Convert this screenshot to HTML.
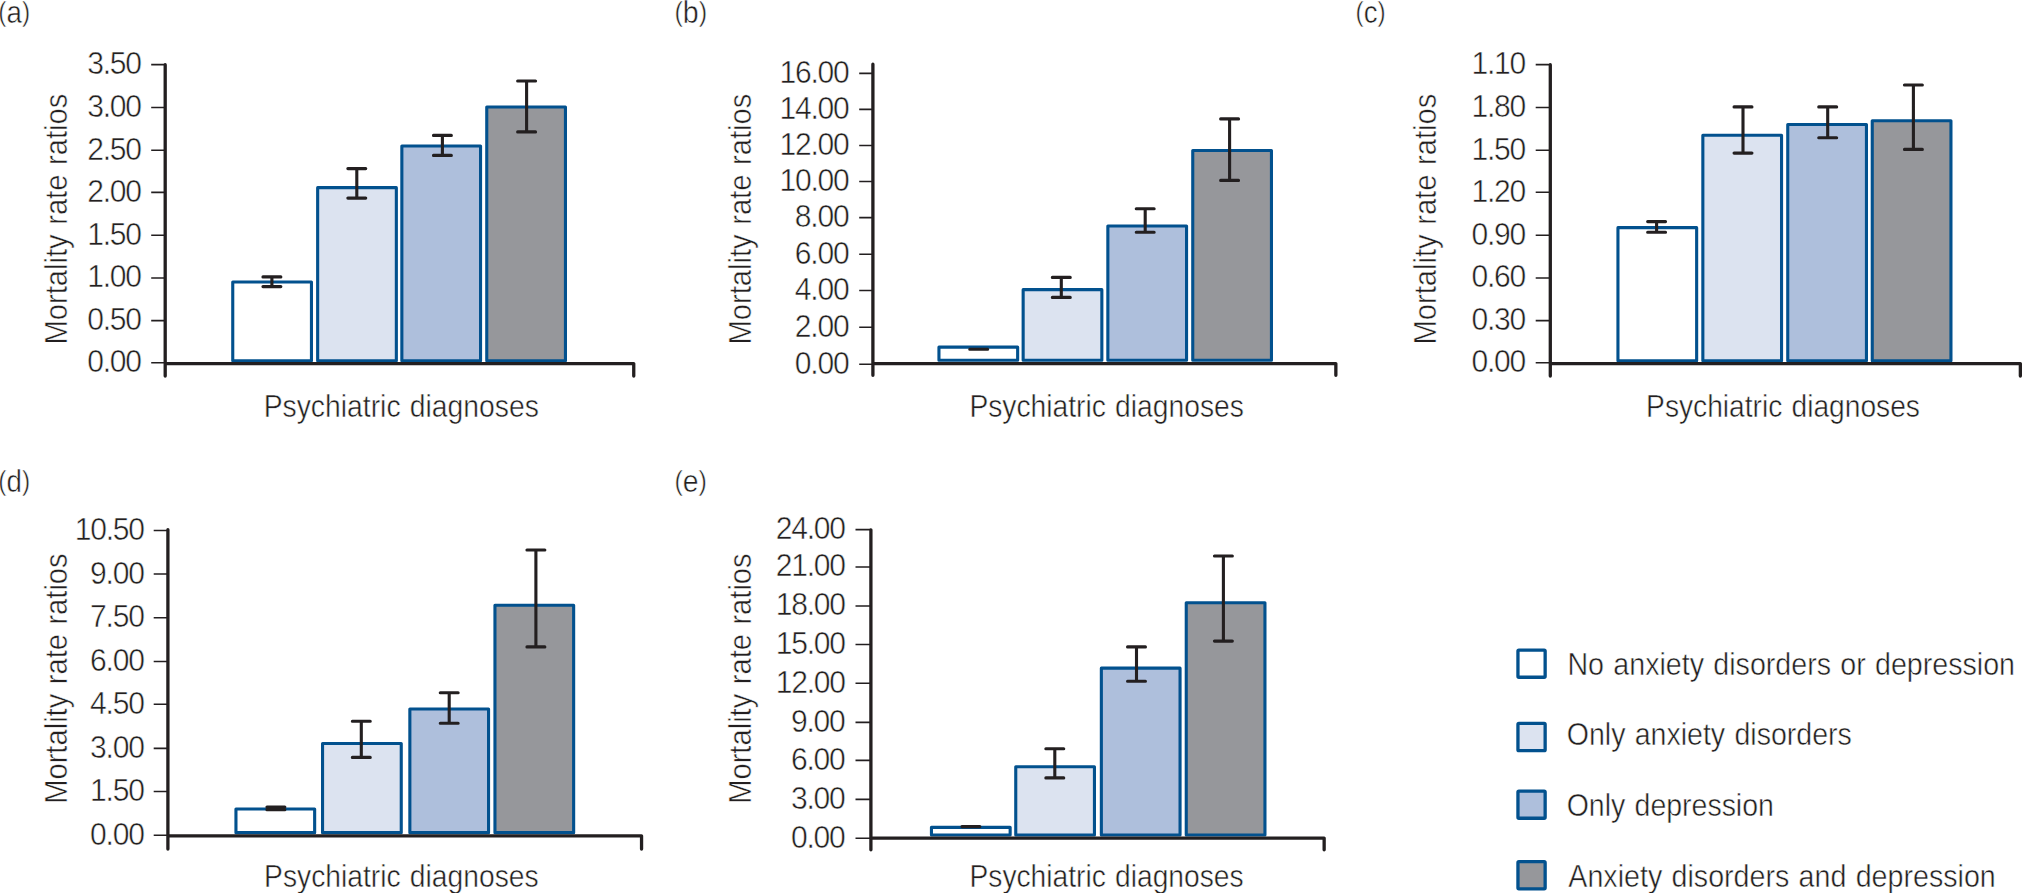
<!DOCTYPE html>
<html lang="en">
<head>
<meta charset="utf-8">
<title>Mortality rate ratios by psychiatric diagnoses</title>
<style>
html,body{margin:0;padding:0;background:#fff;}
body{width:2022px;height:893px;overflow:hidden;}
svg{display:block;}
svg text{font-family:"Liberation Sans",sans-serif;font-size:31.5px;fill:#231f20;stroke:#fff;stroke-width:0.5px;word-spacing:1.5px;}
svg text.n{font-size:31.0px;word-spacing:0;letter-spacing:-1.25px;}
</style>
</head>
<body>
<svg width="2022" height="893" viewBox="0 0 2022 893">
<rect width="2022" height="893" fill="#ffffff"/>
<g>
<text transform="translate(-1.63 22.8) scale(0.8791 1)"><tspan font-size="27.9" dy="-1.7">(</tspan><tspan dy="1.7">a</tspan><tspan font-size="27.9" dy="-1.7">)</tspan></text>
<text transform="translate(67.3 344.58) rotate(-90) scale(0.9264 1)">Mortality rate ratios</text>
<text transform="translate(263.68 416.6) scale(0.8991 1)">Psychiatric diagnoses</text>
<text class="n" transform="translate(87.15 73.9) scale(0.9700 1)">3.50</text>
<text class="n" transform="translate(87.15 116.8) scale(0.9700 1)">3.00</text>
<text class="n" transform="translate(87.15 159.5) scale(0.9700 1)">2.50</text>
<text class="n" transform="translate(87.15 201.7) scale(0.9700 1)">2.00</text>
<text class="n" transform="translate(87.15 244.6) scale(0.9700 1)">1.50</text>
<text class="n" transform="translate(87.15 287.3) scale(0.9700 1)">1.00</text>
<text class="n" transform="translate(87.15 329.9) scale(0.9700 1)">0.50</text>
<text class="n" transform="translate(87.15 372) scale(0.9700 1)">0.00</text>
<path d="M151.2 64.6H165.2M151.2 107.5H165.2M151.2 150.2H165.2M151.2 192.4H165.2M151.2 235.3H165.2M151.2 278H165.2M151.2 320.6H165.2M151.2 362.7H165.2" stroke="#231f20" stroke-width="1.6" fill="none"/>
<rect x="232.75" y="281.95" width="78.7" height="78.8" fill="#ffffff" stroke="#02518e" stroke-width="3.1" stroke-linejoin="round"/>
<rect x="317.65" y="187.65" width="78.7" height="173.1" fill="#dce3f0" stroke="#02518e" stroke-width="3.1" stroke-linejoin="round"/>
<rect x="401.85" y="145.95" width="78.7" height="214.8" fill="#aebfdc" stroke="#02518e" stroke-width="3.1" stroke-linejoin="round"/>
<rect x="486.75" y="106.95" width="78.7" height="253.8" fill="#96979b" stroke="#02518e" stroke-width="3.1" stroke-linejoin="round"/>
<path d="M165.2 64.75V376.05M165.2 363.6H633.75V376.05" stroke="#231f20" stroke-width="3.3" stroke-linecap="round" stroke-linejoin="round" fill="none"/>
<path d="M262.95 276.9H280.85M262.95 286.6H280.85M271.9 276.9V286.6M347.85 168.6H365.75M347.85 198.1H365.75M356.8 168.6V198.1M433.45 135.4H451.35M433.45 155.4H451.35M442.4 135.4V155.4M517.65 81H535.55M517.65 131.9H535.55M526.6 81V131.9" stroke="#231f20" stroke-width="3.1" stroke-linecap="round" fill="none"/>
</g>
<g>
<text transform="translate(674.42 22.8) scale(0.9066 1)"><tspan font-size="27.9" dy="-1.7">(</tspan><tspan dy="1.7">b</tspan><tspan font-size="27.9" dy="-1.7">)</tspan></text>
<text transform="translate(751.3 344.58) rotate(-90) scale(0.9264 1)">Mortality rate ratios</text>
<text transform="translate(969.39 416.6) scale(0.8968 1)">Psychiatric diagnoses</text>
<text class="n" transform="translate(779.43 82.7) scale(0.9700 1)">16.00</text>
<text class="n" transform="translate(779.43 118.7) scale(0.9700 1)">14.00</text>
<text class="n" transform="translate(779.43 154.8) scale(0.9700 1)">12.00</text>
<text class="n" transform="translate(779.43 190.8) scale(0.9700 1)">10.00</text>
<text class="n" transform="translate(794.75 226.9) scale(0.9700 1)">8.00</text>
<text class="n" transform="translate(794.75 263.6) scale(0.9700 1)">6.00</text>
<text class="n" transform="translate(794.75 299.8) scale(0.9700 1)">4.00</text>
<text class="n" transform="translate(794.75 336.6) scale(0.9700 1)">2.00</text>
<text class="n" transform="translate(794.75 373.5) scale(0.9700 1)">0.00</text>
<path d="M859.2 73.4H872.9M859.2 109.4H872.9M859.2 145.5H872.9M859.2 181.5H872.9M859.2 217.6H872.9M859.2 254.3H872.9M859.2 290.5H872.9M859.2 327.3H872.9M859.2 364.2H872.9" stroke="#231f20" stroke-width="1.6" fill="none"/>
<rect x="938.95" y="347.15" width="78.7" height="13.1" fill="#ffffff" stroke="#02518e" stroke-width="3.1" stroke-linejoin="round"/>
<rect x="1023.15" y="289.65" width="78.7" height="70.6" fill="#dce3f0" stroke="#02518e" stroke-width="3.1" stroke-linejoin="round"/>
<rect x="1107.85" y="225.95" width="78.7" height="134.3" fill="#aebfdc" stroke="#02518e" stroke-width="3.1" stroke-linejoin="round"/>
<rect x="1192.75" y="150.45" width="78.7" height="209.8" fill="#96979b" stroke="#02518e" stroke-width="3.1" stroke-linejoin="round"/>
<path d="M872.9 64.25V375.35M872.9 363.6H1335.85V375.35" stroke="#231f20" stroke-width="3.3" stroke-linecap="round" stroke-linejoin="round" fill="none"/>
<path d="M969.75 349.3H987.65M1052.35 277.4H1070.25M1052.35 297.4H1070.25M1061.3 277.4V297.4M1136.25 208.8H1154.15M1136.25 232.3H1154.15M1145.2 208.8V232.3M1220.65 118.9H1238.55M1220.65 180.4H1238.55M1229.6 118.9V180.4" stroke="#231f20" stroke-width="3.1" stroke-linecap="round" fill="none"/>
</g>
<g>
<text transform="translate(1355.57 22.8) scale(0.8754 1)"><tspan font-size="27.9" dy="-1.7">(</tspan><tspan dy="1.7">c</tspan><tspan font-size="27.9" dy="-1.7">)</tspan></text>
<text transform="translate(1436.4 344.58) rotate(-90) scale(0.9264 1)">Mortality rate ratios</text>
<text transform="translate(1646.1 416.6) scale(0.8948 1)">Psychiatric diagnoses</text>
<text class="n" transform="translate(1471.45 73.9) scale(0.9700 1)">1.10</text>
<text class="n" transform="translate(1471.45 116.8) scale(0.9700 1)">1.80</text>
<text class="n" transform="translate(1471.45 159.5) scale(0.9700 1)">1.50</text>
<text class="n" transform="translate(1471.45 201.6) scale(0.9700 1)">1.20</text>
<text class="n" transform="translate(1471.45 244.5) scale(0.9700 1)">0.90</text>
<text class="n" transform="translate(1471.45 287.3) scale(0.9700 1)">0.60</text>
<text class="n" transform="translate(1471.45 329.9) scale(0.9700 1)">0.30</text>
<text class="n" transform="translate(1471.45 372) scale(0.9700 1)">0.00</text>
<path d="M1535.7 64.6H1550.3M1535.7 107.5H1550.3M1535.7 150.2H1550.3M1535.7 192.3H1550.3M1535.7 235.2H1550.3M1535.7 278H1550.3M1535.7 320.6H1550.3M1535.7 362.7H1550.3" stroke="#231f20" stroke-width="1.6" fill="none"/>
<rect x="1617.95" y="227.65" width="78.7" height="133.1" fill="#ffffff" stroke="#02518e" stroke-width="3.1" stroke-linejoin="round"/>
<rect x="1702.85" y="135.25" width="78.7" height="225.5" fill="#dce3f0" stroke="#02518e" stroke-width="3.1" stroke-linejoin="round"/>
<rect x="1787.75" y="124.45" width="78.7" height="236.3" fill="#aebfdc" stroke="#02518e" stroke-width="3.1" stroke-linejoin="round"/>
<rect x="1872.25" y="120.75" width="78.7" height="240" fill="#96979b" stroke="#02518e" stroke-width="3.1" stroke-linejoin="round"/>
<path d="M1550.3 64.75V376.05M1550.3 363.55H2020.35V376.05" stroke="#231f20" stroke-width="3.3" stroke-linecap="round" stroke-linejoin="round" fill="none"/>
<path d="M1647.65 221.6H1665.55M1647.65 232.3H1665.55M1656.6 221.6V232.3M1734.05 106.9H1751.95M1734.05 153.1H1751.95M1743 106.9V153.1M1818.75 106.9H1836.65M1818.75 137.7H1836.65M1827.7 106.9V137.7M1904.45 85H1922.35M1904.45 149.4H1922.35M1913.4 85V149.4" stroke="#231f20" stroke-width="3.1" stroke-linecap="round" fill="none"/>
</g>
<g>
<text transform="translate(-1.63 491.7) scale(0.8791 1)"><tspan font-size="27.9" dy="-1.7">(</tspan><tspan dy="1.7">d</tspan><tspan font-size="27.9" dy="-1.7">)</tspan></text>
<text transform="translate(67.3 803.78) rotate(-90) scale(0.9249 1)">Mortality rate ratios</text>
<text transform="translate(264.09 886.8) scale(0.8971 1)">Psychiatric diagnoses</text>
<text class="n" transform="translate(74.73 540.2) scale(0.9700 1)">10.50</text>
<text class="n" transform="translate(90.05 583.7) scale(0.9700 1)">9.00</text>
<text class="n" transform="translate(90.05 627.4) scale(0.9700 1)">7.50</text>
<text class="n" transform="translate(90.05 671.2) scale(0.9700 1)">6.00</text>
<text class="n" transform="translate(90.05 714) scale(0.9700 1)">4.50</text>
<text class="n" transform="translate(90.05 758.1) scale(0.9700 1)">3.00</text>
<text class="n" transform="translate(90.05 801.2) scale(0.9700 1)">1.50</text>
<text class="n" transform="translate(90.05 845) scale(0.9700 1)">0.00</text>
<path d="M153.7 530.5H167.9M153.7 574H167.9M153.7 617.7H167.9M153.7 661.5H167.9M153.7 704.3H167.9M153.7 748.4H167.9M153.7 791.5H167.9M153.7 835.3H167.9" stroke="#231f20" stroke-width="1.6" fill="none"/>
<rect x="235.95" y="808.95" width="78.7" height="23.7" fill="#ffffff" stroke="#02518e" stroke-width="3.1" stroke-linejoin="round"/>
<rect x="322.55" y="743.45" width="78.7" height="89.2" fill="#dce3f0" stroke="#02518e" stroke-width="3.1" stroke-linejoin="round"/>
<rect x="409.85" y="709.05" width="78.7" height="123.6" fill="#aebfdc" stroke="#02518e" stroke-width="3.1" stroke-linejoin="round"/>
<rect x="494.95" y="605.25" width="78.7" height="227.4" fill="#96979b" stroke="#02518e" stroke-width="3.1" stroke-linejoin="round"/>
<path d="M167.9 529.65V849.05M167.9 835.8H641.55V849.05" stroke="#231f20" stroke-width="3.3" stroke-linecap="round" stroke-linejoin="round" fill="none"/>
<path d="M266.95 807H284.85M266.95 809.8H284.85M275.9 807V809.8M352.35 721.2H370.25M352.35 757.4H370.25M361.3 721.2V757.4M440.25 692.7H458.15M440.25 723.3H458.15M449.2 692.7V723.3M526.95 550H544.85M526.95 646.9H544.85M535.9 550V646.9" stroke="#231f20" stroke-width="3.1" stroke-linecap="round" fill="none"/>
</g>
<g>
<text transform="translate(674.43 491.9) scale(0.9005 1)"><tspan font-size="27.9" dy="-1.7">(</tspan><tspan dy="1.7">e</tspan><tspan font-size="27.9" dy="-1.7">)</tspan></text>
<text transform="translate(751.3 803.78) rotate(-90) scale(0.9249 1)">Mortality rate ratios</text>
<text transform="translate(969.49 886.8) scale(0.8958 1)">Psychiatric diagnoses</text>
<text class="n" transform="translate(775.63 538.9) scale(0.9700 1)">24.00</text>
<text class="n" transform="translate(775.63 576.3) scale(0.9700 1)">21.00</text>
<text class="n" transform="translate(775.63 615.3) scale(0.9700 1)">18.00</text>
<text class="n" transform="translate(775.63 653.8) scale(0.9700 1)">15.00</text>
<text class="n" transform="translate(775.63 692.5) scale(0.9700 1)">12.00</text>
<text class="n" transform="translate(790.95 731.7) scale(0.9700 1)">9.00</text>
<text class="n" transform="translate(790.95 769.7) scale(0.9700 1)">6.00</text>
<text class="n" transform="translate(790.95 808.7) scale(0.9700 1)">3.00</text>
<text class="n" transform="translate(790.95 847.6) scale(0.9700 1)">0.00</text>
<path d="M855.5 529.6H870.9M855.5 567H870.9M855.5 606H870.9M855.5 644.5H870.9M855.5 683.2H870.9M855.5 722.4H870.9M855.5 760.4H870.9M855.5 799.4H870.9M855.5 838.3H870.9" stroke="#231f20" stroke-width="1.6" fill="none"/>
<rect x="931.45" y="827.35" width="78.7" height="7.7" fill="#ffffff" stroke="#02518e" stroke-width="3.1" stroke-linejoin="round"/>
<rect x="1015.75" y="766.75" width="78.7" height="68.3" fill="#dce3f0" stroke="#02518e" stroke-width="3.1" stroke-linejoin="round"/>
<rect x="1101.35" y="668.15" width="78.7" height="166.9" fill="#aebfdc" stroke="#02518e" stroke-width="3.1" stroke-linejoin="round"/>
<rect x="1186.25" y="602.75" width="78.7" height="232.3" fill="#96979b" stroke="#02518e" stroke-width="3.1" stroke-linejoin="round"/>
<path d="M870.9 529.85V849.75M870.9 838.1H1324.15V849.75" stroke="#231f20" stroke-width="3.3" stroke-linecap="round" stroke-linejoin="round" fill="none"/>
<path d="M961.95 826.6H979.85M1045.85 748.7H1063.75M1045.85 777.9H1063.75M1054.8 748.7V777.9M1127.55 646.9H1145.45M1127.55 681.3H1145.45M1136.5 646.9V681.3M1214.45 556H1232.35M1214.45 641.1H1232.35M1223.4 556V641.1" stroke="#231f20" stroke-width="3.1" stroke-linecap="round" fill="none"/>
</g>
<g>
<rect x="1517.95" y="650.05" width="27.2" height="27.2" rx="1" fill="#ffffff" stroke="#02518e" stroke-width="3.3"/>
<text transform="translate(1567.46 675) scale(0.9089 1)">No anxiety disorders or depression</text>
<rect x="1517.95" y="723.45" width="27.2" height="27.2" rx="1" fill="#dce3f0" stroke="#02518e" stroke-width="3.3"/>
<text transform="translate(1566.72 745.1) scale(0.9067 1)">Only anxiety disorders</text>
<rect x="1517.95" y="791.05" width="27.2" height="27.2" rx="1" fill="#aebfdc" stroke="#02518e" stroke-width="3.3"/>
<text transform="translate(1566.72 815.7) scale(0.9048 1)">Only depression</text>
<rect x="1517.95" y="861.65" width="27.2" height="27.2" rx="1" fill="#96979b" stroke="#02518e" stroke-width="3.3"/>
<text transform="translate(1568.35 886.6) scale(0.9091 1)">Anxiety disorders and depression</text>
</g>
</svg>
</body>
</html>
